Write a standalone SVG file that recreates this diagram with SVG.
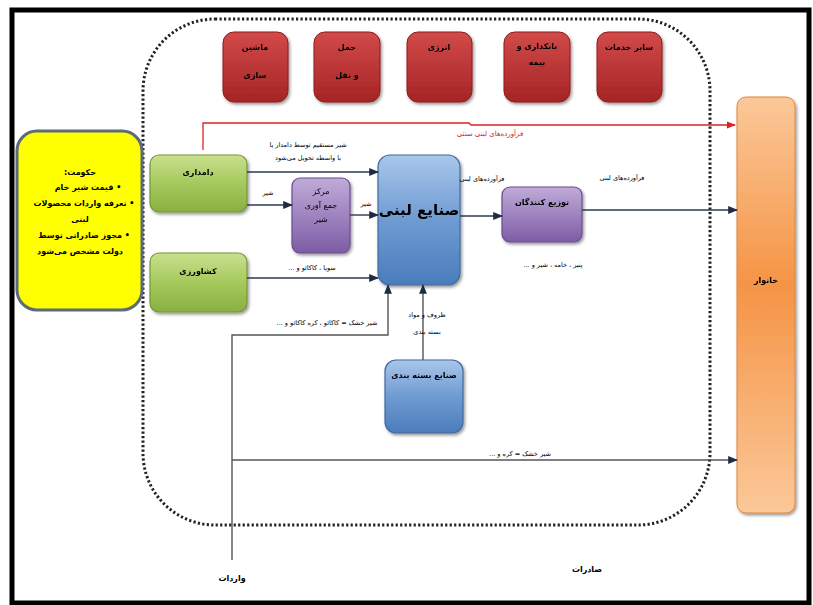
<svg xmlns="http://www.w3.org/2000/svg" width="813" height="605" viewBox="0 0 813 605">
<defs>
<style>
text{font-family:"DejaVu Sans","Noto Sans",sans-serif;fill:#000;text-anchor:middle;direction:rtl}
.t{font-size:8px}
.tb{font-size:8px;font-weight:bold}
.lbl{font-size:6.5px}
.red{fill:#d42020}
.line{fill:none;stroke:#2d3a52;stroke-width:1.4}
.gray{fill:none;stroke:#555;stroke-width:1.4}
.rbox{fill:url(#gRed);stroke:#8e1c1c;stroke-width:1}
.gbox{fill:url(#gGreen);stroke:#76963a;stroke-width:1.2}
.pbox{fill:url(#gPurple);stroke:#6a4d90;stroke-width:1.2}
.bbox{fill:url(#gBlue);stroke:#3f6aa0;stroke-width:1.2}
</style>
<linearGradient id="gRed" x1="0" y1="0" x2="0" y2="1"><stop offset="0" stop-color="#d24a4a"/><stop offset="1" stop-color="#a52424"/></linearGradient>
<linearGradient id="gGreen" x1="0" y1="0" x2="0" y2="1"><stop offset="0" stop-color="#c9e08e"/><stop offset="0.5" stop-color="#a6c95d"/><stop offset="1" stop-color="#89b040"/></linearGradient>
<linearGradient id="gPurple" x1="0" y1="0" x2="0" y2="1"><stop offset="0" stop-color="#c0abd8"/><stop offset="1" stop-color="#7d5ca6"/></linearGradient>
<linearGradient id="gBlue" x1="0" y1="0" x2="0" y2="1"><stop offset="0" stop-color="#a9c6ea"/><stop offset="0.5" stop-color="#6f9bd2"/><stop offset="1" stop-color="#4a7cbc"/></linearGradient>
<linearGradient id="gOrange" x1="0" y1="0" x2="0" y2="1"><stop offset="0" stop-color="#fbc899"/><stop offset="0.45" stop-color="#f59445"/><stop offset="1" stop-color="#fbc899"/></linearGradient>
<filter id="sh" x="-20%" y="-20%" width="140%" height="140%"><feDropShadow dx="1.5" dy="2" stdDeviation="1.5" flood-color="#000" flood-opacity="0.4"/></filter>
<marker id="ah" viewBox="0 0 10 10" refX="9" refY="5" markerWidth="7" markerHeight="7" orient="auto"><path d="M0,1 L10,5 L0,9 z" fill="#1f2b44"/></marker>
<marker id="ahr" viewBox="0 0 10 10" refX="9" refY="5" markerWidth="7" markerHeight="7" orient="auto"><path d="M0,1 L10,5 L0,9 z" fill="#e02020"/></marker>
</defs>
<rect x="0" y="0" width="813" height="605" fill="#fff"/>
<rect x="12" y="10" width="797" height="593" fill="none" stroke="#000" stroke-width="5"/>
<rect x="143" y="19" width="567" height="506" rx="72" fill="none" stroke="#222" stroke-width="3" stroke-dasharray="2.2 2.3"/>

<g id="top-services">
<g id="n-machine" filter="url(#sh)"><rect class="rbox" x="223" y="32" width="65" height="70" rx="11"/><text class="tb" x="255" y="50">ماشین</text><text class="tb" x="255" y="78">سازی</text></g>
<g id="n-transport" filter="url(#sh)"><rect class="rbox" x="314" y="32" width="66" height="70" rx="11"/><text class="tb" x="347" y="50">حمل</text><text class="tb" x="347" y="78">و نقل</text></g>
<g id="n-energy" filter="url(#sh)"><rect class="rbox" x="407" y="32" width="65" height="70" rx="11"/><text class="tb" x="439" y="50">انرژی</text></g>
<g id="n-bank" filter="url(#sh)"><rect class="rbox" x="504" y="32" width="66" height="70" rx="11"/><text class="tb" x="537" y="49">بانکداری و</text><text class="tb" x="537" y="65">بیمه</text></g>
<g id="n-other" filter="url(#sh)"><rect class="rbox" x="597" y="32" width="65" height="70" rx="11"/><text class="tb" x="629" y="50">سایر خدمات</text></g>
</g>

<g id="n-gov">
<rect x="17" y="131" width="125" height="179" rx="20" fill="#ffff00" stroke="#5b6b7c" stroke-width="3"/>
<text class="tb" x="80" y="175">حکومت:</text>
<text class="tb" x="88" y="190">• قیمت شیر خام</text>
<text class="tb" x="84" y="206">• تعرفه واردات محصولات</text>
<text class="tb" x="80" y="222">لبنی</text>
<text class="tb" x="84" y="238">• مجوز صادراتی توسط</text>
<text class="tb" x="80" y="254">دولت مشخص می‌شود</text>
</g>

<g id="n-dairyfarm" filter="url(#sh)"><rect class="gbox" x="150" y="155" width="97" height="57" rx="9"/><text class="tb" x="198" y="175">دامداری</text></g>
<g id="n-agri" filter="url(#sh)"><rect class="gbox" x="150" y="253" width="97" height="59" rx="9"/><text class="tb" x="198" y="274">کشاورزی</text></g>
<g id="n-collect" filter="url(#sh)"><rect class="pbox" x="292" y="178" width="58" height="75" rx="8"/><text class="t" x="321" y="194" font-size="7">مرکز</text><text class="t" x="321" y="208" font-size="7">جمع آوری</text><text class="t" x="321" y="222" font-size="7">شیر</text></g>
<g id="n-dairyind" filter="url(#sh)"><rect class="bbox" x="378" y="155" width="82" height="130" rx="12"/><text x="419" y="215" font-size="15" font-weight="bold">صنایع لبنی</text></g>
<g id="n-dist" filter="url(#sh)"><rect class="pbox" x="502" y="187" width="80" height="55" rx="8"/><text class="tb" x="542" y="205">توزیع کنندگان</text></g>
<g id="n-pack" filter="url(#sh)"><rect class="bbox" x="385" y="360" width="78" height="73" rx="11"/><text class="tb" x="424" y="378">صنایع بسته بندی</text></g>
<g id="n-household" filter="url(#sh)"><rect x="737" y="97" width="58" height="416" rx="9" fill="url(#gOrange)" stroke="#e0843a" stroke-width="1"/><text class="tb" x="766" y="283">خانوار</text></g>

<g id="connectors">
<polyline points="203,150 203,123 469,123 471,125 735,125" fill="none" stroke="#e02020" stroke-width="1.3" marker-end="url(#ahr)"/>
<line class="line" x1="247" y1="172" x2="378" y2="172" marker-end="url(#ah)"/>
<line class="line" x1="247" y1="205" x2="292" y2="205" marker-end="url(#ah)"/>
<line class="line" x1="350" y1="215" x2="378" y2="215" marker-end="url(#ah)"/>
<line class="line" x1="247" y1="278" x2="378" y2="278" marker-end="url(#ah)"/>
<line class="line" x1="460" y1="216" x2="502" y2="216" marker-end="url(#ah)"/>
<line class="line" x1="582" y1="210" x2="737" y2="210" marker-end="url(#ah)"/>
<polyline class="gray" points="232,560 232,335 388,335 388,285" marker-end="url(#ah)"/>
<line class="gray" x1="423" y1="360" x2="423" y2="285" marker-end="url(#ah)"/>
<line class="gray" x1="232" y1="460" x2="737" y2="460" marker-end="url(#ah)"/>
</g>

<g id="labels">
<text class="red" x="490" y="136" font-size="7">فرآورده‌های لبنی سنتی</text>
<text class="lbl" x="308" y="147">شیر مستقیم توسط دامدار یا</text>
<text class="lbl" x="308" y="160">با واسطه تحویل می‌شود</text>
<text class="lbl" x="268" y="195">شیر</text>
<text class="lbl" x="366" y="206">شیر</text>
<text class="lbl" x="312" y="270">سویا ، کاکائو و ...</text>
<text class="lbl" x="482" y="181">فرآورده‌های لبنی</text>
<text class="lbl" x="622" y="180">فرآورده‌های لبنی</text>
<text class="lbl" x="553" y="267">پنیر ، خامه ، شیر و ...</text>
<text class="lbl" x="327" y="325">شیر خشک = کاکائو ، کره کاکائو و ...</text>
<text class="lbl" x="427" y="317">ظروف و مواد</text>
<text class="lbl" x="427" y="334">بسته بندی</text>
<text class="lbl" x="520" y="456">شیر خشک = کره و ...</text>
<text class="tb" x="232" y="581">واردات</text>
<text class="tb" x="587" y="572">صادرات</text>
</g>
</svg>
